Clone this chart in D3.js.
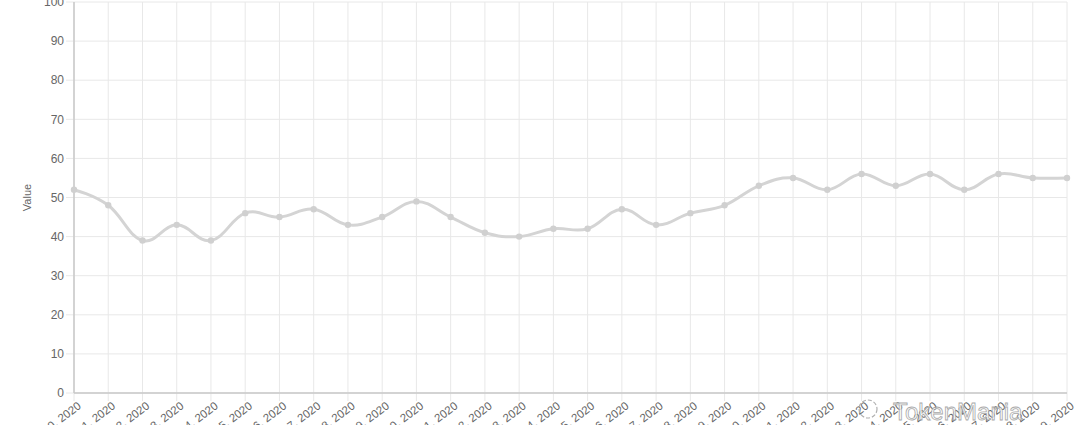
<!DOCTYPE html>
<html>
<head>
<meta charset="utf-8">
<script src="https://cdn.jsdelivr.net/npm/d3@7/dist/d3.min.js"></script>
<style>
html,body{margin:0;padding:0;background:#fff;}
svg{display:block;}
</style>
</head>
<body>
<svg id="chart" width="1080" height="425"></svg>
<script>
const dates = ["Sep 20, 2020","Sep 21, 2020","Sep 22, 2020","Sep 23, 2020","Sep 24, 2020","Sep 25, 2020","Sep 26, 2020","Sep 27, 2020","Sep 28, 2020","Sep 29, 2020","Sep 30, 2020","Oct 1, 2020","Oct 2, 2020","Oct 3, 2020","Oct 4, 2020","Oct 5, 2020","Oct 6, 2020","Oct 7, 2020","Oct 8, 2020","Oct 9, 2020","Oct 10, 2020","Oct 11, 2020","Oct 12, 2020","Oct 13, 2020","Oct 14, 2020","Oct 15, 2020","Oct 16, 2020","Oct 17, 2020","Oct 18, 2020","Oct 19, 2020"];
const values = [52,48,39,43,39,46,45,47,43,45,49,45,41,40,42,42,47,43,46,48,53,55,52,56,53,56,52,56,55,55];
const yTicks = [0,10,20,30,40,50,60,70,80,90,100];
const yLabel = "Value";
const watermark = "TokenMania";

const svg = d3.select("#chart");
const m = {left:74, right:13, top:2, bottom:32};
const W = 1080, H = 425;
const x = d3.scalePoint().domain(dates).range([m.left, W - m.right]);
const y = d3.scaleLinear().domain([0,100]).range([H - m.bottom, m.top]);

// grid
const g = svg.append("g");
g.selectAll("line.hg").data(yTicks).join("line")
  .attr("x1", m.left - 8).attr("x2", W - m.right)
  .attr("y1", d => y(d)).attr("y2", d => y(d))
  .attr("stroke", "#e8e8e8").attr("stroke-width", 1);
g.selectAll("line.vg").data(dates).join("line")
  .attr("x1", d => x(d)).attr("x2", d => x(d))
  .attr("y1", m.top).attr("y2", H - m.bottom + 8)
  .attr("stroke", "#e8e8e8").attr("stroke-width", 1);

// axes lines
svg.append("line").attr("x1", m.left).attr("x2", m.left).attr("y1", m.top).attr("y2", H - m.bottom)
  .attr("stroke", "#c8c8c8").attr("stroke-width", 1.5);
svg.append("line").attr("x1", m.left).attr("x2", W - m.right).attr("y1", H - m.bottom).attr("y2", H - m.bottom)
  .attr("stroke", "#c8c8c8").attr("stroke-width", 1.5);

// y tick labels
svg.append("g").selectAll("text").data(yTicks).join("text")
  .attr("x", m.left - 10).attr("y", d => y(d)).attr("dy", "0.35em")
  .attr("text-anchor", "end")
  .attr("font-family", "Liberation Sans, Arial, sans-serif").attr("font-size", 12)
  .attr("fill", "#666").text(d => d);

// y label
svg.append("text")
  .attr("transform", `translate(31,${y(50)}) rotate(-90)`)
  .attr("text-anchor", "middle")
  .attr("font-family", "Liberation Sans, Arial, sans-serif").attr("font-size", 11)
  .attr("fill", "#666").text(yLabel);

// x tick labels
svg.append("g").selectAll("text").data(dates).join("text")
  .attr("transform", d => `translate(${x(d)+3},${H - m.bottom + 8}) rotate(-37)`)
  .attr("text-anchor", "end").attr("dy", "0.7em")
  .attr("font-family", "Liberation Sans, Arial, sans-serif").attr("font-size", 11.5)
  .attr("fill", "#666").text(d => d);

// line
const line = d3.line().x((d,i) => x(dates[i])).y(d => y(d)).curve(d3.curveCardinal.tension(-0.2));
svg.append("path").datum(values).attr("d", line)
  .attr("fill", "none").attr("stroke", "#d4d4d4").attr("stroke-width", 3);
svg.append("g").selectAll("circle").data(values).join("circle")
  .attr("cx", (d,i) => x(dates[i])).attr("cy", d => y(d)).attr("r", 3.2)
  .attr("fill", "#d0d0d0");

// watermark
svg.append("text").attr("x", 893).attr("y", 420)
  .attr("font-family", "Liberation Sans, Arial, sans-serif").attr("font-size", 24)
  .attr("fill", "#ffffff").attr("stroke", "#9a9a9a").attr("stroke-width", 0.8)
  .attr("opacity", 0.85).text(watermark);
svg.append("circle").attr("cx", 868).attr("cy", 409).attr("r", 9)
  .attr("fill", "none").attr("stroke", "#b0b0b0").attr("stroke-width", 1.2).attr("stroke-dasharray", "4 2");
</script>
</body>
</html>
